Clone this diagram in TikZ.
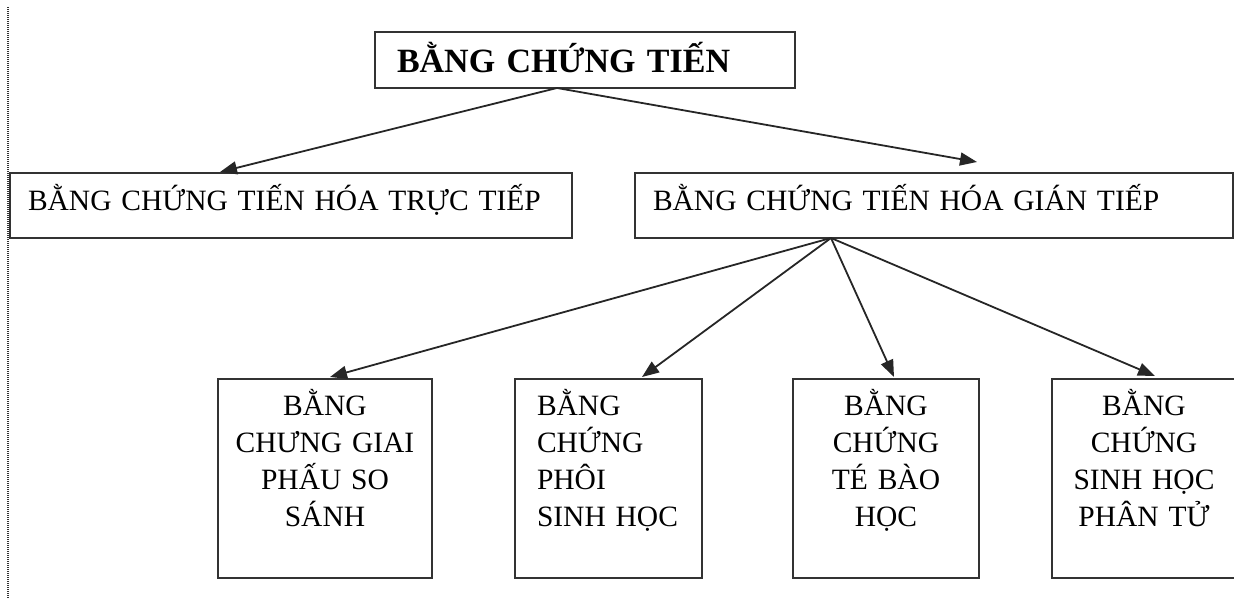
\documentclass[tikz,border=0pt]{standalone}
\usepackage{fontspec}
\setmainfont{Liberation Serif}
\usetikzlibrary{arrows.meta,calc}
\begin{document}
\begin{tikzpicture}[x=1pt,y=-1pt,
  box/.style={draw=black!80, line width=2.2pt, inner xsep=0pt, inner ysep=0pt, outer sep=0pt, anchor=north west},
  link/.style={draw=black!85, line width=1.8pt, -{Triangle[length=17pt,width=13pt]}},
  txt/.style={font=\fontsize{29.5}{37}\selectfont},
  headbox/.style={box, txt, align=left, inner xsep=18pt, text height=37pt, text depth=28pt},
  leafbox/.style={box, txt, text height=36pt, text depth=163pt}
]
\useasboundingbox (0,0) rectangle (1234,599);
% margin rule at the left edge of the page
\draw[black!80, line width=1.2pt, dash pattern=on 1pt off 1pt] (8,7) -- (8,599);

% root
\node[box, align=left, inner xsep=22pt, text width=376pt, text height=41pt, text depth=15pt,
      font=\bfseries\fontsize{34}{40}\selectfont] (root) at (375,32) {BẰNG CHỨNG TIẾN};

% second level
\node[headbox, text width=526pt] (direct) at (10,173) {BẰNG CHỨNG TIẾN HÓA TRỰC TIẾP};
\node[headbox, text width=562pt] (indirect) at (635,173) {BẰNG CHỨNG TIẾN HÓA GIÁN TIẾP};

% leaves
\node[leafbox, text width=214pt, align=center] (anat) at (218,379) {BẰNG\\CHƯNG GIAI\\PHẤU SO\\SÁNH};
\node[leafbox, inner xsep=22pt, text width=143pt, align=left] (embryo) at (515,379) {BẰNG\\CHỨNG\\PHÔI\\SINH HỌC};
\node[leafbox, text width=186pt, align=center] (cell) at (793,379) {BẰNG\\CHỨNG\\TÉ BÀO\\HỌC};
\node[leafbox, text width=184pt, align=center] (molec) at (1052,379) {BẰNG\\CHỨNG\\SINH HỌC\\PHÂN TỬ};

% fork points
\coordinate (rootfork) at ($(root.south west)+(182,0)$);
\coordinate (indfork) at ($(indirect.south west)+(196,0)$);

\draw[link] (rootfork) -- ($(direct.north west)+(210,-1)$);
\draw[link] (rootfork) -- ($(indirect.north west)+(342,-11)$);

\draw[link] (indfork) -- ($(anat.north west)+(112,-2)$);
\draw[link] (indfork) -- ($(embryo.north west)+(127,-2)$);
\draw[link] (indfork) -- ($(cell.north west)+(101,-2)$);
\draw[link] (indfork) -- ($(molec.north west)+(103,-3)$);
\end{tikzpicture}
\end{document}
